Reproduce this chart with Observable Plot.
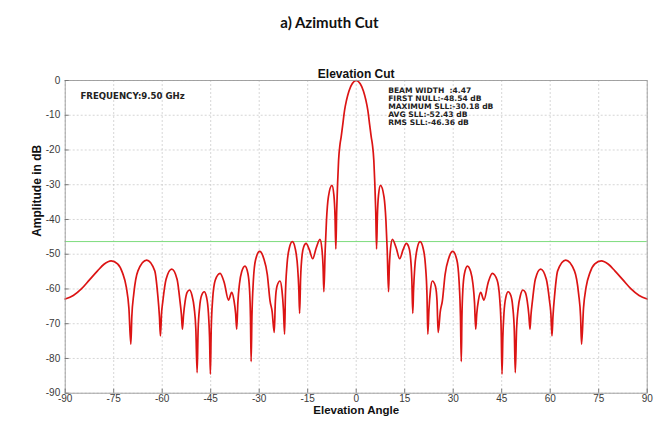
<!DOCTYPE html>
<html>
<head>
<meta charset="utf-8">
<script src="https://cdn.jsdelivr.net/npm/d3@7"></script>
<script src="https://cdn.jsdelivr.net/npm/@observablehq/plot@0.6"></script>
<style>
  body { margin: 0; background: #fff; }
  #title {
    width: 659px; height: 45px; line-height: 45px; text-align: center;
    font-family: Lato, "Open Sans", sans-serif; font-weight: bold; font-size: 15px; color: #111;
  }
</style>
</head>
<body>
<div id="title">a) Azimuth Cut</div>
<div id="chart"></div>
<script>
// Elevation cut of the array pattern: angle (deg) and amplitude (dB), left half up to boresight
const leftAngle = [
  -90, -87.5, -85, -82.5, -80, -78, -75.8, -73.8, -72.3, -71.1, -70.3, -69.7,
  -69.4, -68.8, -67.5, -64.8, -62.3, -61.4, -60.85, -60.55,
  -60.2, -59.8, -58.8, -57.05, -55.4, -54.5, -54.05, -53.75,
  -53.4, -52.9, -52.3, -51.55, -50.8, -50.1, -49.6, -49.2,
  -48.9, -48.4, -47.8, -47.0, -46.3, -45.7, -45.35, -45.1,
  -44.85, -44.4, -43.6, -42.1, -40.8, -39.5, -38.5, -37.8, -37.3, -36.95,
  -36.6, -36.1, -35.4, -34.4, -33.5, -33.0, -32.7, -32.5,
  -32.25, -31.8, -31.1, -29.85, -28.6, -27.5, -26.65, -26.0, -25.35,
  -25.0, -24.5, -23.55, -22.95, -22.5, -22.15,
  -21.9, -21.4, -20.7, -19.75, -18.8, -18.1, -17.75, -17.5,
  -17.2, -16.7, -16.2, -15.5, -14.5, -13.45, -12.4, -11.2, -10.6, -10.25, -10.0,
  -9.6, -9.2, -8.6, -7.5, -6.9, -6.55, -6.3,
  -6.05, -5.75, -5.45, -5.0, -4.66, -4.2, -3.6, -3.0, -2.23, -1.2, 0
];
const leftDb = [
  -62.9, -61.9, -60.0, -57.4, -54.8, -52.9, -51.9, -52.8, -55.3, -59.5, -65.5, -75.9,
  -68, -61.5, -54.8, -51.7, -54.8, -61.5, -68, -73.5,
  -67, -63.5, -57.2, -54.3, -57.2, -63.5, -67.5, -71.6,
  -67.5, -63.5, -61.0, -60.3, -61.8, -65.5, -71.5, -84.1,
  -72, -65, -61.8, -60.8, -62.3, -67, -74, -84.5,
  -72, -63, -57.5, -55.5, -58.2, -63.2, -61.0, -63.3, -67, -71.6,
  -64, -58.5, -55, -53.4, -55.5, -60, -68, -80.9,
  -68, -57.5, -51.5, -49.2, -51.2, -55.8, -63.4, -66.5, -72.5,
  -63.5, -59.2, -57.7, -60.5, -66, -73.0,
  -62, -53, -48.3, -46.4, -48.6, -54, -60, -67.0,
  -57, -50, -47.8, -46.9, -48.7, -51.3, -48.3, -45.7, -48.5, -53.5, -60.8,
  -49, -40.4, -33.5, -30.2, -33, -39, -48.5,
  -38, -29.5, -23, -18.3, -16.3, -13, -8.6, -5.7, -3.0, -0.85, 0
];

// Right half, from just past boresight out to +90 deg
const rightAngle = [
  1.2, 2.23, 3.0, 3.6, 4.2, 4.66, 5.0, 5.45, 5.75, 6.05, 6.3,
  6.55, 6.9, 7.5, 8.6, 9.2, 9.6, 10.0,
  10.25, 10.6, 11.2, 12.4, 13.45, 14.5, 15.5, 16.2, 16.7, 17.2, 17.5,
  17.75, 18.1, 18.8, 19.75, 20.7, 21.4, 21.9, 22.15,
  22.5, 22.95, 23.55, 24.5, 25.0, 25.35,
  26.0, 26.65, 27.5, 28.6, 29.85, 31.1, 31.8, 32.25, 32.5,
  32.7, 33.0, 33.5, 34.4, 35.4, 36.1, 36.6, 36.95,
  37.3, 37.8, 38.5, 39.5, 40.8, 42.1, 43.6, 44.4, 44.85, 45.1,
  45.35, 45.7, 46.3, 47.0, 47.8, 48.4, 48.9, 49.2,
  49.6, 50.1, 50.8, 51.55, 52.3, 52.9, 53.4, 53.75,
  54.05, 54.5, 55.4, 57.05, 58.8, 59.8, 60.2, 60.55,
  60.85, 61.4, 62.3, 64.8, 67.5, 68.8, 69.4, 69.7,
  70.3, 71.1, 72.3, 73.8, 75.8, 78, 80, 82.5, 85, 87.5, 90
];
const rightDb = [
  -0.85, -3.0, -5.7, -8.6, -13, -16.3, -18.3, -23, -29.5, -38, -48.5,
  -39, -33, -30.2, -33.5, -40.4, -49, -60.8,
  -53.5, -48.5, -45.7, -48.3, -51.3, -48.7, -46.9, -47.8, -50, -57, -67.0,
  -60, -54, -48.6, -46.4, -48.3, -53, -62, -73.0,
  -66, -60.5, -57.7, -59.2, -63.5, -72.5,
  -66.5, -63.4, -55.8, -51.2, -49.2, -51.5, -57.5, -68, -80.9,
  -68, -60, -55.5, -53.4, -55, -58.5, -64, -71.6,
  -67, -63.3, -61.0, -63.2, -58.2, -55.5, -57.5, -63, -72, -84.5,
  -74, -67, -62.3, -60.8, -61.8, -65, -72, -84.1,
  -71.5, -65.5, -61.8, -60.3, -61.0, -63.5, -67.5, -71.6,
  -67.5, -63.5, -57.2, -54.3, -57.2, -63.5, -67, -73.5,
  -68, -61.5, -54.8, -51.7, -54.8, -61.5, -68, -75.9,
  -65.5, -59.5, -55.3, -52.8, -51.9, -52.9, -54.8, -57.4, -60.0, -61.9, -62.9
];

// Axis ticks
const xTicks = [-90, -75, -60, -45, -30, -15, 0, 15, 30, 45, 60, 75, 90];
const yTicks = [0, -10, -20, -30, -40, -50, -60, -70, -80, -90];

// Pattern summary
const frequencyGHz = "9.50";
const beamWidth = "4.47";
const firstNull = "-48.54";
const maxSll = "-30.18";
const avgSll = "-52.43";
const rmsSll = -46.36;

const pattern = leftAngle.map((a, i) => ({angle: a, db: leftDb[i]}))
  .concat(rightAngle.map((a, i) => ({angle: a, db: rightDb[i]})));

const statsText = [
  `BEAM WIDTH\u00a0\u00a0:${beamWidth}`,
  `FIRST NULL:${firstNull} dB`,
  `MAXIMUM SLL:${maxSll} dB`,
  `AVG SLL:${avgSll} dB`,
  `RMS SLL:${rmsSll.toFixed(2)} dB`
].join("\n");

const W = 659, H = 376;
const mL = 64.7, mR = 12.3, mT = 35, mB = 28.3;
const innerW = W - mL - mR, innerH = H - mT - mB;
const noteFont = '"DejaVu Sans", "Liberation Sans", sans-serif';

const chart = Plot.plot({
  width: W,
  height: H,
  marginLeft: mL,
  marginRight: mR,
  marginTop: mT,
  marginBottom: mB,
  style: {fontFamily: '"Liberation Sans", Arial, sans-serif', fontSize: "10px", color: "#333", background: "#fff", overflow: "visible"},
  x: {domain: [-90, 90]},
  y: {domain: [-90, 0]},
  marks: [
    Plot.gridX(xTicks, {stroke: "#c4c4c4", strokeOpacity: 0.7, strokeDasharray: "2,2"}),
    Plot.gridY(yTicks, {stroke: "#c4c4c4", strokeOpacity: 0.7, strokeDasharray: "2,2"}),
    Plot.ruleY([rmsSll], {stroke: "#7ddc7d", strokeWidth: 1}),
    Plot.line(pattern, {x: "angle", y: "db", curve: "monotone-x", stroke: "#dc1414", strokeWidth: 1.7}),
    Plot.frame({stroke: "#9a9a9a", strokeWidth: 0.9}),
    Plot.tickX(xTicks, {x: d => d, insetTop: innerH - 4, stroke: "#777"}),
    Plot.tickY(yTicks, {y: d => d, insetRight: innerW - 4, stroke: "#777"}),
    Plot.axisX(xTicks, {tickSize: 0, tickPadding: 1.5, label: null, tickFormat: d => `${d}`, fill: "#3a3a3a"}),
    Plot.axisY(yTicks, {tickSize: 0, tickPadding: 5, label: null, tickFormat: d => `${d}`, fill: "#3a3a3a"}),
    Plot.text(["Elevation Cut"], {frameAnchor: "top", dy: -11, fontWeight: "bold", fontSize: 12, fill: "#111"}),
    Plot.text(["Elevation Angle"], {frameAnchor: "bottom", dy: 20.5, fontWeight: "bold", fontSize: 11.5, fill: "#111"}),
    Plot.text(["Amplitude in dB"], {frameAnchor: "left", dx: -27.7, rotate: -90, fontWeight: "bold", fontSize: 12, fill: "#111"}),
    Plot.text([`FREQUENCY:${frequencyGHz} GHz`], {x: -85.3, y: -4.4, textAnchor: "start", fontFamily: noteFont, fontWeight: "bold", fontSize: 8.6, fill: "#222"}),
    Plot.text([statsText], {x: 9.88, y: -1.85, lineAnchor: "top", textAnchor: "start", lineHeight: 1.07, fontFamily: noteFont, fontWeight: "bold", fontSize: 7.6, fill: "#222"})
  ]
});

document.getElementById("chart").appendChild(chart);
</script>
</body>
</html>
